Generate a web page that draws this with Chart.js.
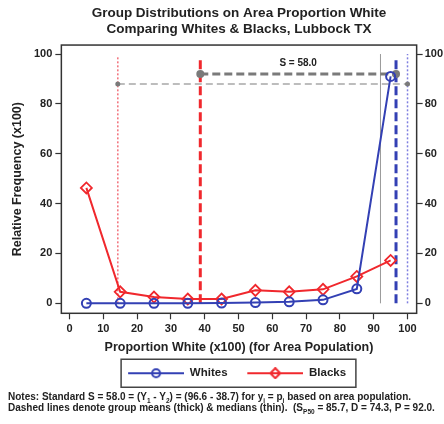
<!DOCTYPE html>
<html>
<head>
<meta charset="utf-8">
<script src="https://cdn.jsdelivr.net/npm/chart.js@4"></script>
<style>
  html, body { margin: 0; padding: 0; background: #fff; }
  #wrap { position: relative; width: 444px; height: 424px; }
  #notes {
    position: absolute; left: 8px; top: 391px;
    font: bold 10px "Liberation Sans", Arial, sans-serif; line-height: 11px;
    color: #222; white-space: nowrap;
  }
  #notes sub { font-size: 6.5px; line-height: 0; }
</style>
</head>
<body>
<div id="wrap">
  <canvas id="chart" width="444" height="424"></canvas>
  <div id="notes">
    Notes: Standard S = 58.0 = (Y<sub>1</sub> - Y<sub>2</sub>) = (96.6 - 38.7) for y<sub>i</sub> = p<sub>i</sub> based on area population.<br>
    Dashed lines denote group means (thick) &amp; medians (thin).&nbsp; (S<sub>P50</sub> = 85.7, D = 74.3, P = 92.0.
  </div>
</div>
<script>
// data
const bins = [5, 15, 25, 35, 45, 55, 65, 75, 85, 95];
const whites = [0, 0, 0, 0, 0.1, 0.3, 0.6, 1.4, 5.8, 91];
const blacks = [46.3, 4.6, 2.5, 1.7, 1.7, 5.2, 4.6, 5.6, 10.8, 17.2];
const seriesNames = ['Whites', 'Blacks'];

const xTicks = [0, 10, 20, 30, 40, 50, 60, 70, 80, 90, 100];
const yTicks = [0, 20, 40, 60, 80, 100];

const meanBlack = 38.7, meanWhite = 96.6;
const medianBlack = 14.3, medianWhite = 100;
const pValue = 92.0;
const meanLevel = 92, medianLevel = 88;
const lineTop = 99;
const gapLabel = 'S = 58.0';
const gapLabelY = 96.5;

const titleLines = ['Group Distributions on Area Proportion White', 'Comparing Whites & Blacks, Lubbock TX'];
const xTitle = 'Proportion White (x100) (for Area Population)';
const yTitle = 'Relative Frequency (x100)';

const BLUE = '#3340b4', RED = '#f0282d', GRAY = '#7a7a7a';
const FONT = '"Liberation Sans", Arial, sans-serif';
const SYM_PAD = 2;

const pts = ys => bins.map((b, i) => ({x: b, y: ys[i]}));
const vline = (x, top, color, width, dash) => ({
  data: [{x, y: 0}, {x, y: top}], borderColor: color, borderWidth: width,
  borderDash: dash, pointRadius: 0
});

// legend symbol: line with marker, a little blank space on its left
function legendSymbol(color, style) {
  const c = document.createElement('canvas');
  c.width = 56 + SYM_PAD; c.height = 12;
  const g = c.getContext('2d');
  const cx = SYM_PAD + 28;
  g.strokeStyle = color; g.lineWidth = 2;
  g.beginPath(); g.moveTo(SYM_PAD, 6); g.lineTo(SYM_PAD + 56, 6); g.stroke();
  g.beginPath();
  if (style === 'circle') g.arc(cx, 6, 4, 0, Math.PI * 2);
  else { g.moveTo(cx, 1); g.lineTo(cx + 5, 6); g.lineTo(cx, 11); g.lineTo(cx - 5, 6); g.closePath(); }
  g.stroke();
  return c;
}
const symbols = [legendSymbol(BLUE, 'circle'), legendSymbol(RED, 'diamond')];

const frame = {
  id: 'frame',
  afterDatasetsDraw(chart) {
    const {ctx, chartArea: a, scales: {x, y}} = chart;
    ctx.save();
    ctx.strokeStyle = '#333'; ctx.lineWidth = 1.5;
    ctx.strokeRect(a.left, a.top, a.right - a.left, a.bottom - a.top);
    ctx.font = 'bold 10px ' + FONT;
    ctx.fillStyle = '#222'; ctx.textAlign = 'center'; ctx.textBaseline = 'middle';
    ctx.fillText(gapLabel, x.getPixelForValue((meanBlack + meanWhite) / 2), y.getPixelForValue(gapLabelY));
    ctx.restore();
  },
  afterDraw(chart) {
    const boxes = chart.legend.legendHitBoxes;
    if (!boxes || !boxes.length) return;
    const l = Math.min(...boxes.map(b => b.left)) + SYM_PAD - 7;
    const r = Math.max(...boxes.map(b => b.left + b.width)) + 4;
    const mid = boxes[0].top + boxes[0].height / 2;
    const ctx = chart.ctx;
    ctx.save();
    ctx.strokeStyle = '#444'; ctx.lineWidth = 1.5;
    ctx.strokeRect(l, mid - 14, r - l, 28);
    ctx.restore();
  }
};

const tickFont = {family: FONT, size: 11, weight: 'bold'};
const axisGrid = {drawOnChartArea: false, drawTicks: true, tickLength: 6, tickColor: '#333', tickWidth: 1.2};

new Chart(document.getElementById('chart'), {
  type: 'line',
  data: {
    datasets: [
      {label: seriesNames[0], data: pts(whites), borderColor: BLUE, borderWidth: 2,
       pointStyle: 'circle', pointRadius: 4.5, pointBorderWidth: 2, pointBackgroundColor: 'rgba(0,0,0,0)', pointBorderColor: BLUE},
      {label: seriesNames[1], data: pts(blacks), borderColor: RED, borderWidth: 2,
       pointStyle: 'rectRot', pointRadius: 5.5, pointBorderWidth: 1.8, pointBackgroundColor: 'rgba(0,0,0,0)', pointBorderColor: RED},
      {data: [{x: meanBlack, y: meanLevel}, {x: meanWhite, y: meanLevel}], borderColor: GRAY, borderWidth: 3,
       borderDash: [8, 4], pointRadius: 4, pointBackgroundColor: GRAY, pointBorderWidth: 0},
      {data: [{x: medianBlack, y: medianLevel}, {x: medianWhite, y: medianLevel}], borderColor: '#a8a8a8', borderWidth: 1.6,
       borderDash: [7, 4], pointRadius: 2.5, pointBackgroundColor: GRAY, pointBorderWidth: 0},
      vline(medianBlack, lineTop, '#f2707a', 1.5, [2, 2]),
      vline(meanBlack, lineTop, RED, 3, [9, 4]),
      vline(pValue, 100, '#9a9a9a', 1, []),
      vline(meanWhite, lineTop, BLUE, 3, [9, 4]),
      vline(medianWhite, 100, '#7f7fe0', 1.5, [2, 2])
    ]
  },
  options: {
    responsive: false,
    animation: false,
    events: [],
    layout: {padding: {left: 10, right: -1, top: 0, bottom: 35}},
    plugins: {
      title: {display: true, text: titleLines, color: '#222', fullSize: false,
              font: {family: FONT, size: 13.5, weight: 'bold', lineHeight: 1.15}, padding: {top: 6, bottom: 8}},
      legend: {
        display: true, position: 'bottom', fullSize: false,
        labels: {
          usePointStyle: true, pointStyleWidth: 56 + SYM_PAD, boxHeight: 11,
          color: '#222', font: {family: FONT, size: 11.5, weight: 'bold'}, padding: 12,
          generateLabels: () => seriesNames.map((n, i) => ({
            text: n + '\u2002', pointStyle: symbols[i], datasetIndex: i, fontColor: '#222',
            lineWidth: 0, strokeStyle: 'rgba(0,0,0,0)', fillStyle: 'rgba(0,0,0,0)'
          }))
        }
      },
      tooltip: {enabled: false}
    },
    scales: {
      x: {
        type: 'linear', min: -2.4, max: 102.7,
        afterBuildTicks: s => { s.ticks = xTicks.map(v => ({value: v})); },
        ticks: {font: tickFont, color: '#222', padding: 3, maxRotation: 0, autoSkip: false},
        grid: axisGrid, border: {display: false},
        title: {display: true, text: xTitle, color: '#222', font: {family: FONT, size: 12.5, weight: 'bold'}, padding: {top: 2, bottom: 0}}
      },
      y: {
        type: 'linear', min: -4, max: 103.6,
        afterBuildTicks: s => { s.ticks = yTicks.map(v => ({value: v})); },
        ticks: {font: tickFont, color: '#222', padding: 3},
        grid: axisGrid, border: {display: false},
        title: {display: true, text: yTitle, color: '#222', font: {family: FONT, size: 12.5, weight: 'bold'}, padding: {top: 0, bottom: 6}}
      },
      y2: {
        type: 'linear', position: 'right', min: -4, max: 103.6,
        afterBuildTicks: s => { s.ticks = yTicks.map(v => ({value: v})); },
        ticks: {font: tickFont, color: '#222', padding: 2},
        grid: axisGrid, border: {display: false}
      }
    }
  },
  plugins: [frame]
});
</script>
</body>
</html>
